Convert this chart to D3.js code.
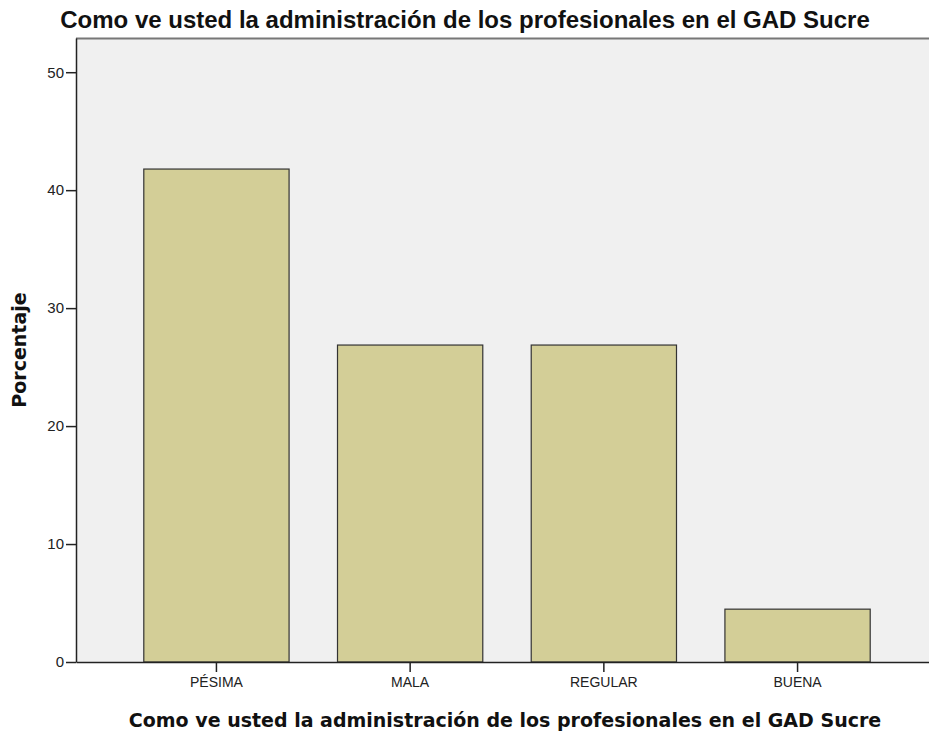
<!DOCTYPE html>
<html>
<head>
<meta charset="utf-8">
<script src="https://cdn.jsdelivr.net/npm/d3@7"></script>
<style>
  body { margin: 0; background: #fff; }
  svg { display: block; }
</style>
</head>
<body>
<script>
// datos del gráfico
const categories = ["PÉSIMA", "MALA", "REGULAR", "BUENA"],
  percents = [41.79, 26.87, 26.87, 4.48],
  yTicks = [0, 10, 20, 30, 40, 50];

const titleText = "Como ve usted la administración de los profesionales en el GAD Sucre",
  xTitleText = "Como ve usted la administración de los profesionales en el GAD Sucre",
  yTitleText = "Porcentaje";

const W = 929, H = 736,
  margin = { top: 38, right: -9, bottom: 74, left: 76 },
  width = W - margin.left - margin.right,
  height = H - margin.top - margin.bottom;

let svg = d3.select("body")
  .append("svg")
  .attr("width", W)
  .attr("height", H);

let g = svg.append("g")
  .attr("transform", "translate(" + margin.left + ", " + margin.top + ")");

// escalas
let x = d3.scaleBand()
  .domain(categories)
  .range([0, width])
  .paddingInner(0.25)
  .paddingOuter(0.35);

let y = d3.scaleLinear()
  .domain([0, 52.9])
  .range([height, 0]);

// fondo del área de trazado
g.append("rect")
  .attr("x", 0)
  .attr("y", 0)
  .attr("width", width)
  .attr("height", height)
  .attr("fill", "#f0f0f0");

g.append("line")
  .attr("x1", 0).attr("x2", width)
  .attr("y1", 0.5).attr("y2", 0.5)
  .attr("stroke", "#777")
  .attr("stroke-width", 2);

// barras
g.selectAll("rect.bar")
  .data(percents)
  .enter()
  .append("rect")
  .attr("class", "bar")
  .attr("x", (d, i) => x(categories[i]))
  .attr("y", d => y(d))
  .attr("width", x.bandwidth())
  .attr("height", d => height - y(d))
  .attr("fill", "#d3ce97")
  .attr("stroke", "#333")
  .attr("stroke-width", 1.2);

// eje Y
let yAxis = g.append("g")
  .call(d3.axisLeft(y).tickValues(yTicks).tickSize(10).tickPadding(2).tickSizeOuter(0));
yAxis.select(".domain").attr("stroke", "#222").attr("stroke-width", 1.5);
yAxis.selectAll(".tick line").attr("stroke", "#222").attr("stroke-width", 1.5);
yAxis.selectAll(".tick text")
  .attr("font-family", "Liberation Sans, Arial, sans-serif")
  .attr("font-size", 15)
  .attr("fill", "#222");

// eje X
let xAxis = g.append("g")
  .attr("transform", "translate(0, " + height + ")")
  .call(d3.axisBottom(x).tickSize(10).tickPadding(5).tickSizeOuter(0));
xAxis.select(".domain").attr("stroke", "#222").attr("stroke-width", 1.5);
xAxis.selectAll(".tick line").attr("stroke", "#222").attr("stroke-width", 1.5);
xAxis.selectAll(".tick text")
  .attr("font-family", "Liberation Sans, Arial, sans-serif")
  .attr("font-size", 14)
  .attr("fill", "#222");

// títulos
svg.append("text")
  .attr("x", 465)
  .attr("y", 28)
  .attr("text-anchor", "middle")
  .attr("font-family", "Liberation Sans, Arial, sans-serif")
  .attr("font-weight", "bold")
  .attr("font-size", 24)
  .attr("fill", "#111")
  .text(titleText);

svg.append("text")
  .attr("x", 505)
  .attr("y", 727)
  .attr("text-anchor", "middle")
  .attr("font-family", "DejaVu Sans, Verdana, sans-serif")
  .attr("font-weight", "bold")
  .attr("font-size", 19)
  .attr("fill", "#111")
  .text(xTitleText);

svg.append("text")
  .attr("transform", "translate(26, 350) rotate(-90)")
  .attr("text-anchor", "middle")
  .attr("font-family", "DejaVu Sans, Verdana, sans-serif")
  .attr("font-weight", "bold")
  .attr("font-size", 19)
  .attr("fill", "#111")
  .text(yTitleText);
</script>
</body>
</html>
